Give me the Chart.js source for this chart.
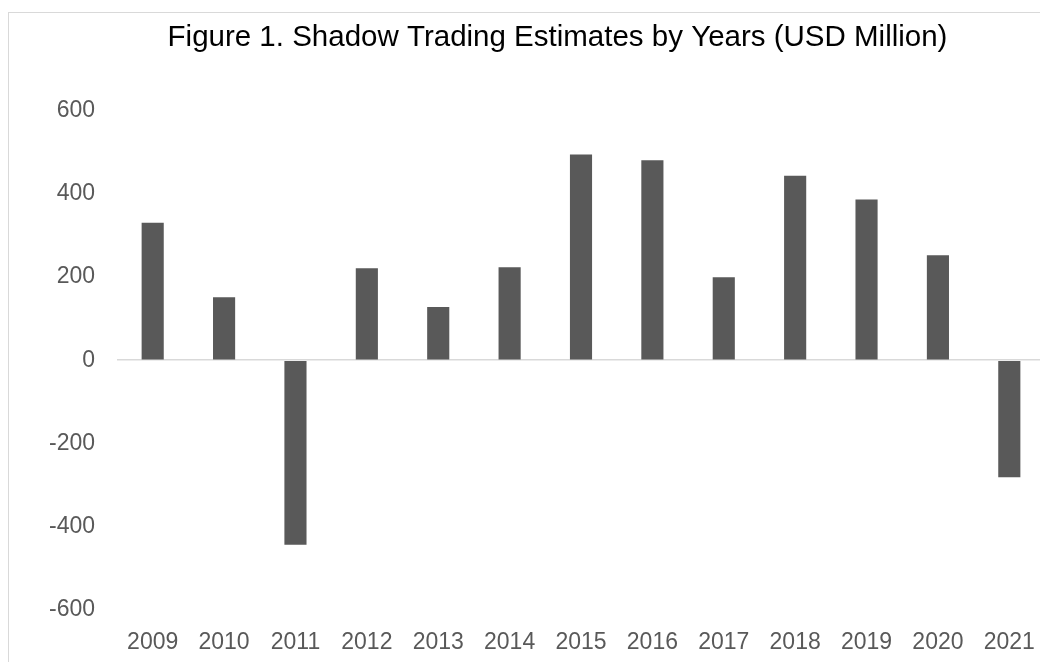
<!DOCTYPE html>
<html>
<head>
<meta charset="utf-8">
<script src="https://cdn.jsdelivr.net/npm/chart.js@4/dist/chart.umd.min.js"></script>
<style>
  html, body { margin: 0; padding: 0; background: #fff; }
  body { width: 1040px; height: 662px; overflow: hidden; position: relative; }
  #frame {
    position: absolute; left: 8px; top: 12px;
    width: 1097px; height: 700px;
    border-left: 1px solid #d9d9d9; border-top: 1px solid #d9d9d9;
  }
  #shadowChart { display: block; }
</style>
</head>
<body>
<div id="frame">
  <canvas id="shadowChart" width="1097" height="660"></canvas>
</div>
<script>
// Shadow trading estimates, USD million
const years = ['2009', '2010', '2011', '2012', '2013', '2014', '2015',
               '2016', '2017', '2018', '2019', '2020', '2021'];
const estimates = [330, 151, -443, 221, 128, 223, 494, 480, 199, 443, 386, 252, -281];

const yMin = -600;
const yMax = 600;
const yStep = 200;

const chartCanvas = document.getElementById('shadowChart');
const font = 'Arial, "Liberation Sans", Helvetica, sans-serif';

new Chart(chartCanvas, {
    type: 'bar',
    data: {
        labels: years,
        datasets: [{
            data: estimates,
            backgroundColor: '#595959',
            borderWidth: 0,
            categoryPercentage: 1,
            barPercentage: 0.31
        }]
    },
    options: {
        responsive: false,
        animation: false,
        devicePixelRatio: 1,
        layout: { padding: 0 },
        plugins: {
            legend: { display: false },
            tooltip: { enabled: false },
            title: {
                display: true,
                text: 'Figure 1. Shadow Trading Estimates by Years (USD Million)',
                color: '#000',
                font: { family: font, size: 29.5, weight: 'normal', lineHeight: 1.2 },
                padding: { top: 7, bottom: 55 }
            }
        },
        scales: {
            x: {
                grid: { display: false },
                border: { display: false },
                ticks: {
                    color: '#595959',
                    font: { family: font, size: 23 },
                    padding: 11,
                    maxRotation: 0,
                    autoSkip: false
                },
                afterFit(scale) { scale.height = 63; }
            },
            y: {
                min: yMin,
                max: yMax,
                border: { display: false },
                grid: {
                    drawTicks: false,
                    lineWidth: 1.5,
                    color: ctx => ctx.tick && ctx.tick.value === 0 ? '#d9d9d9' : 'rgba(0,0,0,0)'
                },
                ticks: {
                    stepSize: yStep,
                    color: '#595959',
                    font: { family: font, size: 23 },
                    padding: 22
                },
                afterFit(scale) { scale.width = 108; }
            },
            // empty right-hand axis, only reserves the margin on that side
            yRight: {
                position: 'right',
                grid: { display: false },
                border: { display: false },
                ticks: { display: false },
                afterFit(scale) { scale.width = 61; }
            }
        }
    }
});
</script>
</body>
</html>
